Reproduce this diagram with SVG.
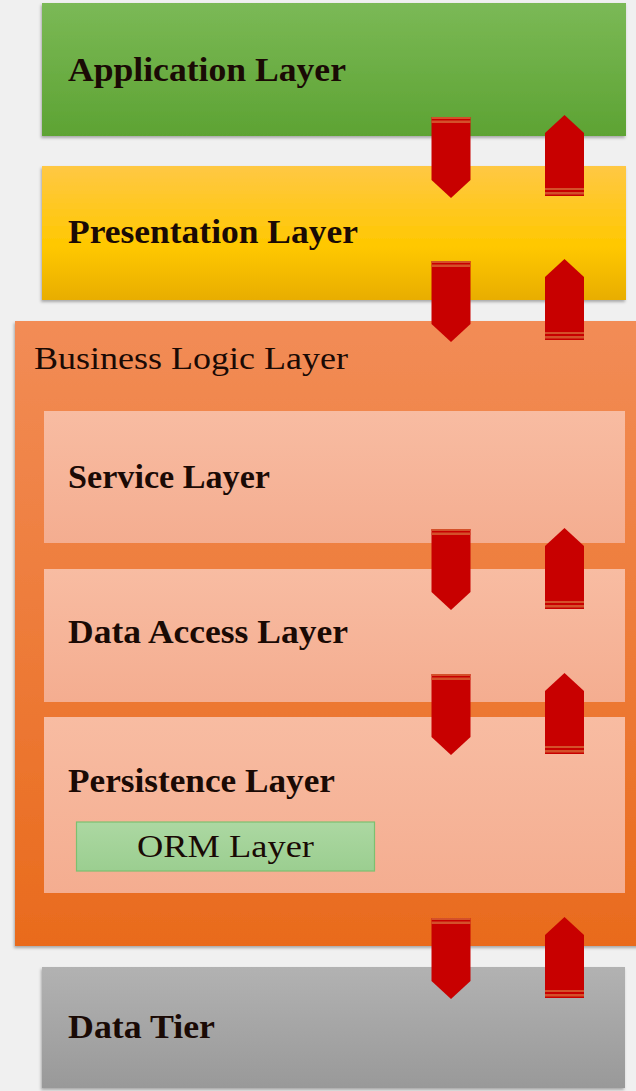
<svg xmlns="http://www.w3.org/2000/svg" width="636" height="1091" viewBox="0 0 636 1091">
<defs>
<linearGradient id="gGreen" x1="0" y1="0" x2="0" y2="1"><stop offset="0" stop-color="#7bb956"/><stop offset="1" stop-color="#5da333"/></linearGradient>
<linearGradient id="gYellow" x1="0" y1="0" x2="0" y2="1"><stop offset="0" stop-color="#ffc844"/><stop offset="0.6" stop-color="#ffc800"/><stop offset="1" stop-color="#e8ad00"/></linearGradient>
<linearGradient id="gOrange" x1="0" y1="0" x2="0" y2="1"><stop offset="0" stop-color="#f28c56"/><stop offset="1" stop-color="#e96b1d"/></linearGradient>
<linearGradient id="gSalmon" x1="0" y1="0" x2="0" y2="1"><stop offset="0" stop-color="#f8bca2"/><stop offset="1" stop-color="#f4ad90"/></linearGradient>
<linearGradient id="gGray" x1="0" y1="0" x2="0" y2="1"><stop offset="0" stop-color="#b2b2b2"/><stop offset="1" stop-color="#999999"/></linearGradient>
<linearGradient id="gOrm" x1="0" y1="0" x2="0" y2="1"><stop offset="0" stop-color="#acd8a2"/><stop offset="1" stop-color="#9bce90"/></linearGradient>
<filter id="sh" x="-5%" y="-5%" width="110%" height="115%"><feDropShadow dx="-1" dy="2" stdDeviation="1.5" flood-color="#000" flood-opacity="0.3"/></filter>
<g id="down">
<path d="M0 0 H39 V63 L19.5 81 L0 63 Z" fill="#c80000"/>
<rect x="0" y="0" width="39" height="2" fill="#d4502a"/>
<rect x="0" y="3.5" width="39" height="2.5" fill="#d4502a"/>
</g>
<g id="up">
<path d="M19.5 0 L39 18 V81 H0 V18 Z" fill="#c80000"/>
<rect x="0" y="73" width="39" height="2" fill="#d4502a"/>
<rect x="0" y="77" width="39" height="2.5" fill="#d4502a"/>
</g>
</defs>
<style>
.t{font-family:"Liberation Serif","DejaVu Serif",serif;fill:#1a0a05}
.b{font-weight:bold}
</style>
<rect x="0" y="0" width="636" height="1091" fill="#f0f0f0"/>
<g id="app"><rect x="42" y="3" width="584" height="133" fill="url(#gGreen)" filter="url(#sh)"/><text class="t b" x="68" y="81" font-size="34" textLength="278" lengthAdjust="spacingAndGlyphs">Application Layer</text></g>
<g id="presentation"><rect x="42" y="166" width="584" height="134" fill="url(#gYellow)" filter="url(#sh)"/><text class="t b" x="68" y="243" font-size="34" textLength="290" lengthAdjust="spacingAndGlyphs">Presentation Layer</text></g>
<g id="business"><rect x="15" y="321" width="625" height="625" fill="url(#gOrange)" filter="url(#sh)"/><text class="t" x="34" y="369" font-size="32" textLength="314" lengthAdjust="spacingAndGlyphs">Business Logic Layer</text></g>
<g id="service"><rect x="44" y="411" width="581" height="132" fill="url(#gSalmon)"/><text class="t b" x="68" y="488" font-size="33" textLength="202" lengthAdjust="spacingAndGlyphs">Service Layer</text></g>
<g id="dataaccess"><rect x="44" y="569" width="581" height="133" fill="url(#gSalmon)"/><text class="t b" x="68" y="643" font-size="33" textLength="280" lengthAdjust="spacingAndGlyphs">Data Access Layer</text></g>
<g id="persistence"><rect x="44" y="717" width="581" height="176" fill="url(#gSalmon)"/><text class="t b" x="68" y="792" font-size="33" textLength="267" lengthAdjust="spacingAndGlyphs">Persistence Layer</text></g>
<g id="orm"><rect x="76.5" y="822" width="298" height="49" fill="url(#gOrm)" stroke="#7cc070" stroke-width="1.2"/><text class="t" x="137" y="857" font-size="32" textLength="177" lengthAdjust="spacingAndGlyphs">ORM Layer</text></g>
<g id="datatier"><rect x="42" y="967" width="583" height="121" fill="url(#gGray)" filter="url(#sh)"/><text class="t b" x="68" y="1038" font-size="33" textLength="147" lengthAdjust="spacingAndGlyphs">Data Tier</text></g>
<g id="connectors">
<use href="#down" x="431.5" y="117"/><use href="#up" x="545" y="115"/>
<use href="#down" x="431.5" y="261"/><use href="#up" x="545" y="259"/>
<use href="#down" x="431.5" y="529"/><use href="#up" x="545" y="528"/>
<use href="#down" x="431.5" y="674"/><use href="#up" x="545" y="673"/>
<use href="#down" x="431.5" y="918"/><use href="#up" x="545" y="917"/>
</g>
</svg>
